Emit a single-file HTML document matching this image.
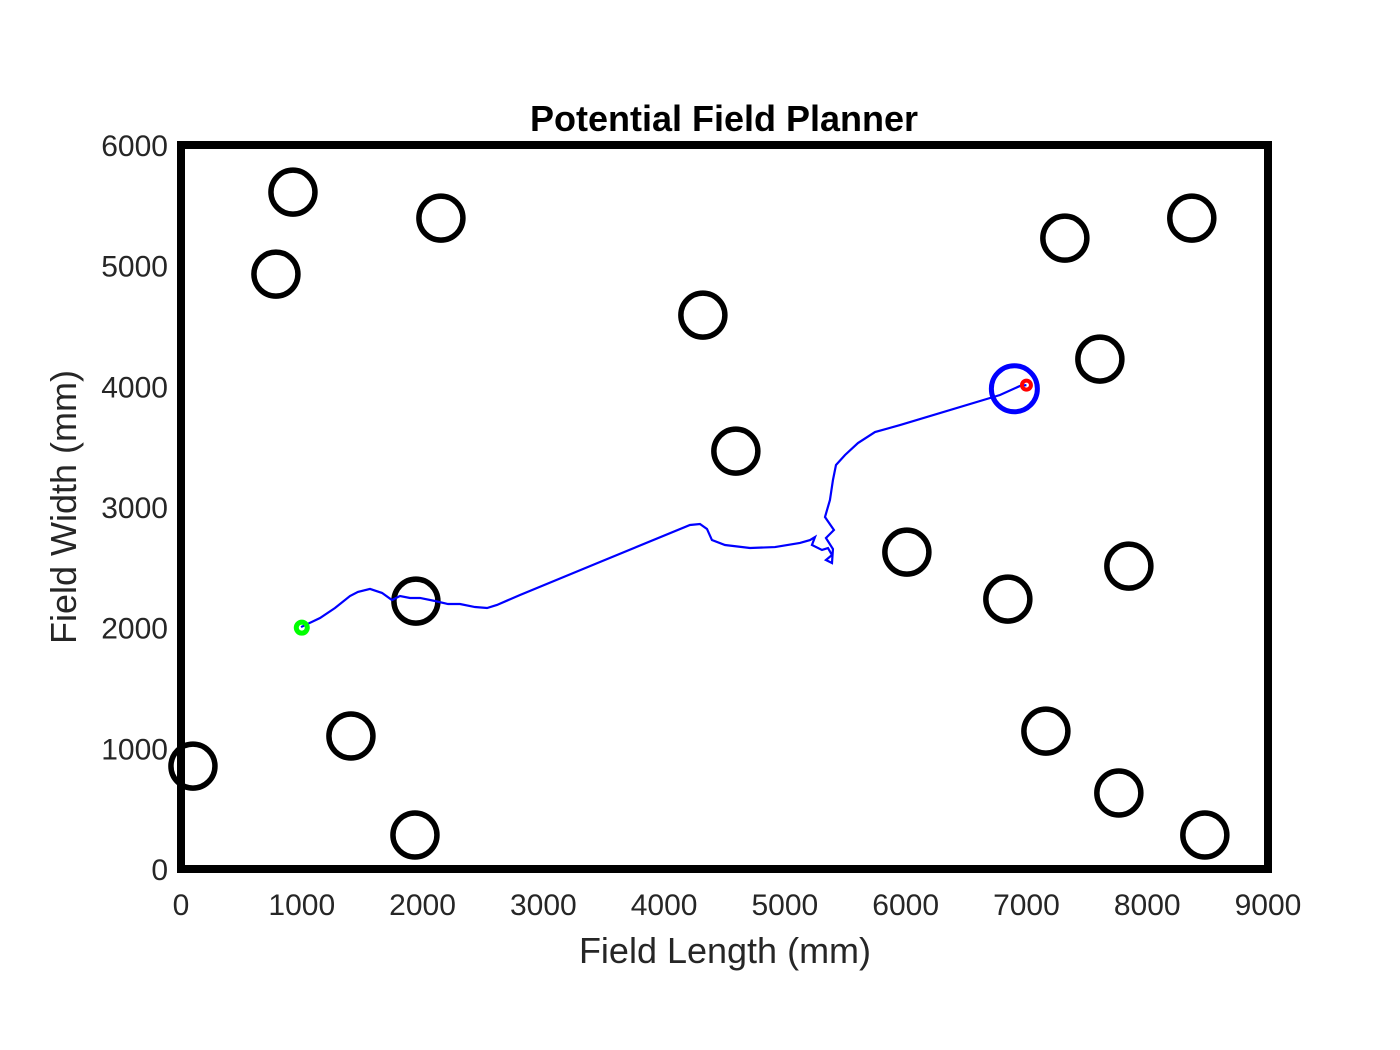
<!DOCTYPE html>
<html><head><meta charset="utf-8"><style>
body{margin:0;background:#fff;}
svg{display:block;font-family:"Liberation Sans",Arial,sans-serif;}
</style></head><body>
<svg id="chart" width="1400" height="1050">
<text x="724" y="131" text-anchor="middle" font-size="36" font-weight="bold">Potential Field Planner</text>
<text x="725" y="963" text-anchor="middle" font-size="36" fill="#262626">Field Length (mm)</text>
<text transform="translate(76,507) rotate(-90)" text-anchor="middle" font-size="36" fill="#262626">Field Width (mm)</text>
<g id="plot"></g>
</svg>
<script>
const xTicks=[0,1000,2000,3000,4000,5000,6000,7000,8000,9000];
const yTicks=[0,1000,2000,3000,4000,5000,6000];
const obsX=[927,786,2152,4321,4594,7318,8369,7608,6010,6846,7848,7161,7765,8477,1945,1407,1937,99];
const obsY=[5609,4930,5394,4590,3463,5228,5394,4226,2626,2237,2510,1143,630,282,2220,1102,282,853];
const pathX=[994,1151,1275,1399,1465,1565,1664,1747,1813,1896,1979,2103,2211,2310,2434,2534,2616,2807,3469,4214,4297,4355,4396,4504,4711,4918,5125,5208,5249,5224,5307,5357,5390,5340,5390,5398,5340,5406,5332,5373,5398,5423,5498,5605,5746,5953,6781,6946,7000];
const pathY=[2005,2080,2163,2262,2296,2321,2288,2229,2262,2246,2246,2221,2196,2196,2171,2163,2188,2271,2544,2851,2859,2818,2726,2685,2660,2668,2702,2726,2751,2685,2644,2660,2602,2561,2536,2652,2743,2809,2917,3058,3224,3348,3431,3530,3621,3679,3928,4003,4010];
const start=[1000,2000], goal=[7000,4010], robot=[6900,3980];
const X0=181,X1=1268,Y0=869,Y1=145;
const sx=v=>X0+(v/9000)*(X1-X0), sy=v=>Y0-(v/6000)*(Y0-Y1);
const NS='http://www.w3.org/2000/svg', g=document.getElementById('plot');
function mk(t,a){const e=document.createElementNS(NS,t);for(const k in a)e.setAttribute(k,a[k]);g.appendChild(e);return e;}
xTicks.forEach(v=>{const t=mk('text',{x:sx(v),y:915,'text-anchor':'middle','font-size':30,fill:'#262626'});t.textContent=v;

});
yTicks.forEach(v=>{const t=mk('text',{x:168,y:sy(v)+11,'text-anchor':'end','font-size':30,fill:'#262626'});t.textContent=v;

});
obsX.forEach((v,i)=>{const c=mk('circle',{cx:sx(v),cy:sy(obsY[i]),r:22,fill:'none',stroke:'#000','stroke-width':5.5});

});
const p=mk('polyline',{points:pathX.map((v,i)=>sx(v)+','+sy(pathY[i])).join(' '),fill:'none',stroke:'#0000ff','stroke-width':2.2});


const s=mk('circle',{cx:sx(start[0]),cy:sy(start[1]),r:5.5,fill:'none',stroke:'#00ff00','stroke-width':5});


const r=mk('circle',{cx:sx(robot[0]),cy:sy(robot[1]),r:23,fill:'none',stroke:'#0000ff','stroke-width':5});


const gl=mk('circle',{cx:sx(goal[0]),cy:sy(goal[1]),r:4.5,fill:'none',stroke:'#ff0000','stroke-width':4});


const b=mk('rect',{x:X0,y:Y1,width:X1-X0,height:Y0-Y1,fill:'none',stroke:'#000','stroke-width':8});


</script>
</body></html>
